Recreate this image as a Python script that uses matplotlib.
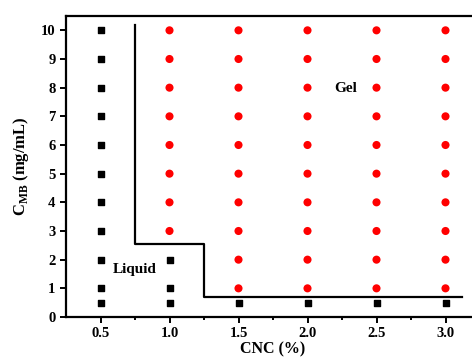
import matplotlib
matplotlib.use("Agg")
import matplotlib.pyplot as plt

# phase diagram data
cnc = [0.5, 1.0, 1.5, 2.0, 2.5, 3.0]
c_mb = [0.5, 1, 2, 3, 4, 5, 6, 7, 8, 9, 10]
# lowest C_MB that gels for each CNC (None = never gels)
gel_onset = [None, 3, 1, 1, 1, 1]

# phase boundary drawn in the figure
boundary_x = [0.75, 0.75, 1.25, 1.25, 3.12]
boundary_y = [10.2, 2.55, 2.55, 0.7, 0.7]

plt.rcParams['font.family'] = ['Liberation Serif', 'DejaVu Serif']
plt.rcParams['font.weight'] = 'bold'
plt.rcParams['mathtext.fontset'] = 'custom'
plt.rcParams['mathtext.rm'] = 'Liberation Serif:bold'
plt.rcParams['mathtext.bf'] = 'Liberation Serif:bold'

liq_x, liq_y, gel_x, gel_y = [], [], [], []
for x, onset in zip(cnc, gel_onset):
    for y in c_mb:
        if onset is not None and y >= onset:
            gel_x.append(x)
            gel_y.append(y)
        else:
            liq_x.append(x)
            liq_y.append(y)

fig = plt.figure(figsize=(4.72, 3.63), dpi=100)
ax = fig.add_axes([66/472, 46/363, 414/472, 301/363])

ax.scatter(liq_x, liq_y, marker='s', s=20, color='black', zorder=3)
ax.scatter(gel_x, gel_y, marker='o', s=34, color='red', edgecolors='none', zorder=3)
ax.plot(boundary_x, boundary_y, color='black', lw=1.6)

ax.text(0.75, 1.67, 'Liquid', ha='center', va='center', fontsize=11, fontweight='bold')
ax.text(2.28, 7.98, 'Gel', ha='center', va='center', fontsize=11, fontweight='bold')

ax.set_xlim(0.25, 3.25)
ax.set_ylim(0, 10.5)
ax.set_xticks(cnc)
ax.set_xticklabels(['%.1f' % v for v in cnc])
ax.set_xticks([0.75, 1.25, 1.75, 2.25, 2.75], minor=True)
ax.set_yticks(range(0, 11))

ax.spines['right'].set_visible(False)
for s in ['left', 'bottom', 'top']:
    ax.spines[s].set_linewidth(1.6)
ax.tick_params(axis='both', which='major', direction='out', length=4, width=1.4, labelsize=10.5)
ax.tick_params(axis='x', which='minor', direction='out', length=2.5, width=1.4)
ax.tick_params(top=False, right=False)

ax.set_xlabel('CNC (%)', fontsize=11.5, fontweight='bold', labelpad=1)
ax.set_ylabel(r'C$_{\mathrm{MB}}$ (mg/mL)', fontsize=12, fontweight='bold', labelpad=7)

fig.savefig('out.png', dpi=100)
